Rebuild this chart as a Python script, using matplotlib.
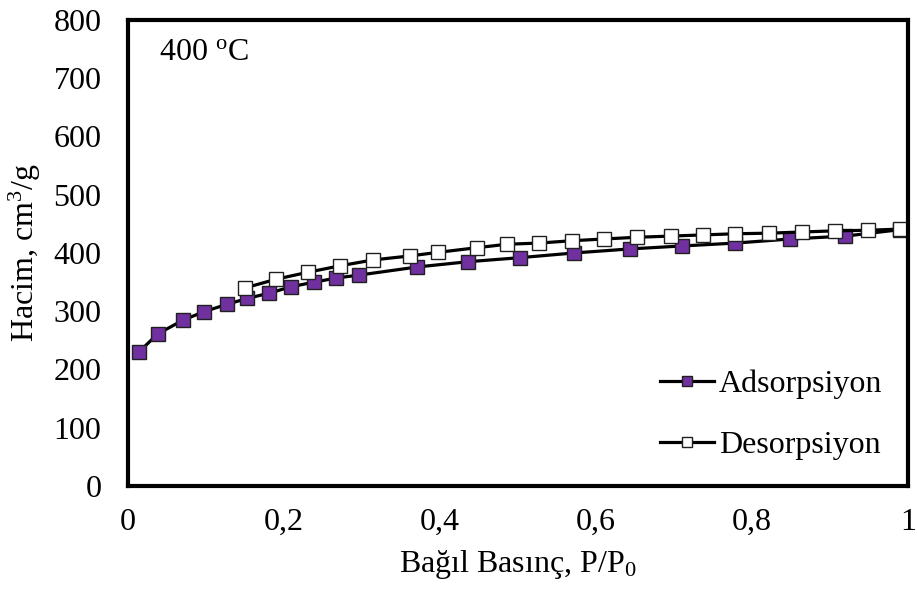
import matplotlib
matplotlib.use('Agg')
import matplotlib.pyplot as plt

plt.rcParams['font.family'] = 'Liberation Serif'
plt.rcParams['mathtext.fontset'] = 'custom'
plt.rcParams['mathtext.rm'] = 'Liberation Serif'
plt.rcParams['mathtext.it'] = 'Liberation Serif'

# adsorption branch
ads_x = [0.014, 0.038, 0.071, 0.097, 0.127, 0.153, 0.181, 0.209, 0.239, 0.267, 0.296,
         0.371, 0.436, 0.503, 0.572, 0.644, 0.710, 0.779, 0.849, 0.920, 0.990]
ads_y = [230, 261, 285, 299, 312, 322, 331, 342, 350, 357, 362,
         376, 385, 392, 400, 407, 412, 417, 424, 429, 440]
# desorption branch
des_x = [0.150, 0.190, 0.231, 0.272, 0.314, 0.362, 0.397, 0.447, 0.486, 0.527, 0.569,
         0.610, 0.653, 0.696, 0.737, 0.779, 0.822, 0.864, 0.906, 0.949, 0.990]
des_y = [340, 355, 367, 378, 388, 395, 401, 409, 415, 417, 421,
         424, 427, 429, 431, 433, 434, 436, 438, 439, 441]

fig = plt.figure(figsize=(9.17, 5.91), dpi=100)
ax = fig.add_axes([0.1396, 0.1777, 0.8504, 0.7885])

l1, = ax.plot(ads_x, ads_y, '-s', color='black', lw=2.3, ms=10,
              mfc='#7030A0', mec='#202020', mew=1, label='Adsorpsiyon')
l2, = ax.plot(des_x, des_y, '-s', color='black', lw=2.3, ms=10,
              mfc='white', mec='#202020', mew=1, label='Desorpsiyon')

ax.set_xlim(0, 1)
ax.set_ylim(0, 800)
ax.set_xticks([0, 0.2, 0.4, 0.6, 0.8, 1])
ax.set_xticklabels(['0', '0,2', '0,4', '0,6', '0,8', '1'])
ax.set_yticks(range(0, 801, 100))
ax.tick_params(length=0, labelsize=23)
ax.tick_params(axis='y', pad=19)
ax.tick_params(axis='x', pad=16)
for s in ax.spines.values():
    s.set_linewidth(3)

ax.set_xlabel('Bağıl Basınç, P/P$_0$', fontsize=23, labelpad=8)
ax.set_ylabel('Hacim, cm$^3$/g', fontsize=23, labelpad=8)
ax.text(0.04, 0.93, '400 $^{\\rm o}$C', transform=ax.transAxes, fontsize=23, va='center')

ax.legend(handles=[l1, l2], loc='lower right', bbox_to_anchor=(1.0, 0.0),
          frameon=False, fontsize=23, labelspacing=1.0, handlelength=1.7,
          handletextpad=0.15, borderaxespad=0.6, borderpad=0.2, markerscale=0.75)

fig.savefig('out.png', dpi=100)
